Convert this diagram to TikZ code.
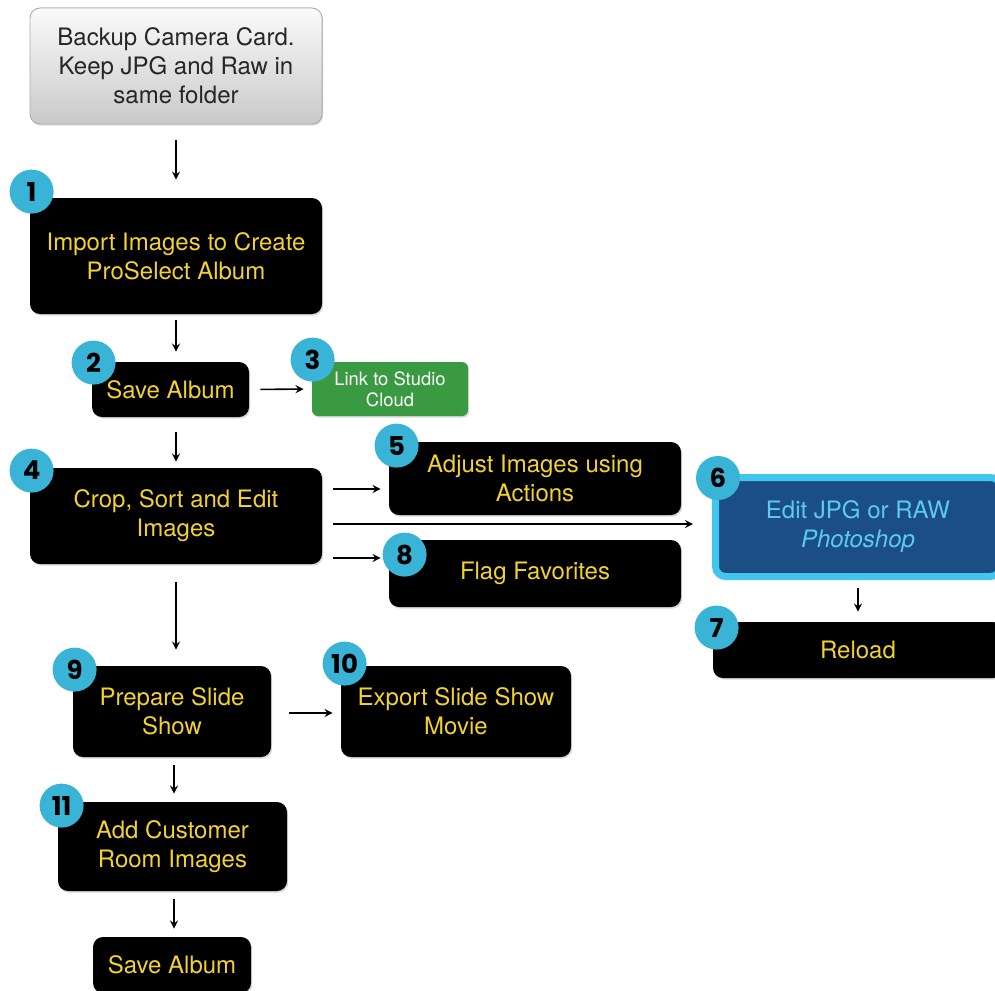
\documentclass[tikz,border=0pt]{standalone}
\usepackage{fontspec}
\setmainfont{TeX Gyre Heros}
\newfontfamily\badgefont{Poppins}
\usepackage{tikz}
\usetikzlibrary{shadows}
\definecolor{stepyellow}{HTML}{F2D22E}
\definecolor{badgecyan}{HTML}{3AB4D6}
\definecolor{cloudgreen}{HTML}{3A9A42}
\definecolor{psblue}{HTML}{1C4E86}
\definecolor{psborder}{HTML}{43C6EE}
\definecolor{pstext}{HTML}{5CC9EE}
\tikzstyle{stepbox} = [fill=black, text=stepyellow, rectangle, rounded corners=5pt,
    align=center, inner sep=0pt, font=\fontsize{12}{14.5}\selectfont,
    drop shadow={shadow xshift=0.6pt, shadow yshift=-0.8pt, opacity=0.3}]
\tikzstyle{startbox} = [stepbox, top color=gray!4, bottom color=gray!42, draw=gray!65,
    text=black!85]
\tikzstyle{cloudbox} = [stepbox, fill=cloudgreen, text=white, rounded corners=3pt,
    font=\fontsize{9.2}{10.5}\selectfont]
\tikzstyle{psbox} = [stepbox, fill=psblue, draw=psborder, line width=3.5pt, text=pstext]
\tikzstyle{badge} = [circle, fill=badgecyan, minimum size=22pt, inner sep=0pt,
    font=\badgefont\bfseries\fontsize{13}{13}\selectfont]
\tikzstyle{arr} = [-stealth, thick, shorten <=4pt, shorten >=4pt]

\begin{document}
\begin{tikzpicture}[x=0.5pt, y=-0.5pt]
    \useasboundingbox (0,0) rectangle (995,990);
    % main column
    \node [startbox, minimum width=146pt, minimum height=58pt] (backup) at (176,66)
        {Backup Camera Card.\\Keep JPG and Raw in\\same folder};
    \node [stepbox, minimum width=146pt, minimum height=58pt] (import) at (176,256)
        {Import Images to Create\\ProSelect Album};
    \node [stepbox, minimum width=78.5pt, minimum height=27.5pt] (save) at (170.5,389.5) {Save Album};
    \node [cloudbox, minimum width=78pt, minimum height=27pt] (cloud) at (390,389)
        {Link to Studio\\Cloud};
    \node [stepbox, minimum width=146pt, minimum height=48pt] (crop) at (176,516)
        {Crop, Sort and Edit\\Images};
    \node [stepbox, minimum width=146pt, minimum height=36.5pt] (adjust) at (535,478.5)
        {Adjust Images using\\Actions};
    \node [stepbox, minimum width=146pt, minimum height=33.5pt] (flag) at (535,573.5) {Flag Favorites};
    \node [psbox, minimum width=142.5pt, minimum height=49.5pt] (edit) at (858,527)
        {Edit JPG or RAW\\\textit{Photoshop}};
    \node [stepbox, minimum width=145pt, minimum height=28pt] (reload) at (858,650) {Reload};
    \node [stepbox, minimum width=99pt, minimum height=45.5pt] (prepare) at (172,711.5)
        {Prepare Slide\\Show};
    \node [stepbox, minimum width=115pt, minimum height=45.5pt] (export) at (456,711.5)
        {Export Slide Show\\Movie};
    \node [stepbox, minimum width=114.5pt, minimum height=44.5pt] (customer) at (172.5,846.5)
        {Add Customer\\Room Images};
    \node [stepbox, minimum width=79pt, minimum height=28pt] (savefinal) at (172,965) {Save Album};

    % number badges
    \node [badge] (b1) at ([shift={(2,-6)}]import.north west) {1};
    \node [badge] (b2) at ([shift={(2,1)}]save.north west) {2};
    \node [badge] (b3) at ([shift={(1,-2)}]cloud.north west) {3};
    \node [badge] (b4) at ([shift={(2,3)}]crop.north west) {4};
    \node [badge] (b5) at ([shift={(8,4)}]adjust.north west) {5};
    \node [badge] (b6) at ([shift={(6,4)}]edit.north west) {6};
    \node [badge] (b7) at ([shift={(4,6)}]reload.north west) {7};
    \node [badge] (b8) at ([shift={(16,15)}]flag.north west) {8};
    \node [badge] (b9) at ([shift={(2,4)}]prepare.north west) {9};
    \node [badge] (b10) at ([shift={(4,-2)}]export.north west) {10};
    \node [badge] (b11) at ([shift={(4,4)}]customer.north west) {11};

    % connectors
    \draw [arr, shorten <=8pt, shorten >=9pt] (backup.south) -- (import.north);
    \draw [arr, shorten <=3pt, shorten >=5pt] (import.south) -- (import.south |- save.north);
    \draw [arr, shorten <=5.5pt] (save.east) -- (cloud.west);
    \draw [arr, shorten <=7.5pt, shorten >=3pt] (crop.north |- save.south) -- (crop.north);
    \draw [arr, shorten <=5.5pt] ([yshift=13.5pt]crop.east) -- ([yshift=13.5pt]crop.east -| adjust.west);
    \draw [arr, shorten <=5.5pt, shorten >=9.5pt] ([yshift=-4pt]crop.east) -- ([yshift=-4pt]crop.east -| edit.west);
    \draw [arr, shorten <=5.5pt] ([yshift=-21pt]crop.east) -- ([yshift=-21pt]crop.east -| flag.west);
    \draw [arr, shorten <=4pt, shorten >=5pt] (edit.south) -- (reload.north);
    \draw [arr, shorten <=9pt, shorten >=8pt] (crop.south) -- (crop.south |- prepare.north);
    \draw [arr, shorten <=9pt] ([yshift=-0.75pt]prepare.east) -- ([yshift=-0.75pt]prepare.east -| export.west);
    \draw [arr] ([xshift=1pt]prepare.south) -- ([xshift=1pt]prepare.south |- customer.north);
    \draw [arr] ([xshift=0.75pt]customer.south) -- ([xshift=0.75pt]customer.south |- savefinal.north);
\end{tikzpicture}
\end{document}
